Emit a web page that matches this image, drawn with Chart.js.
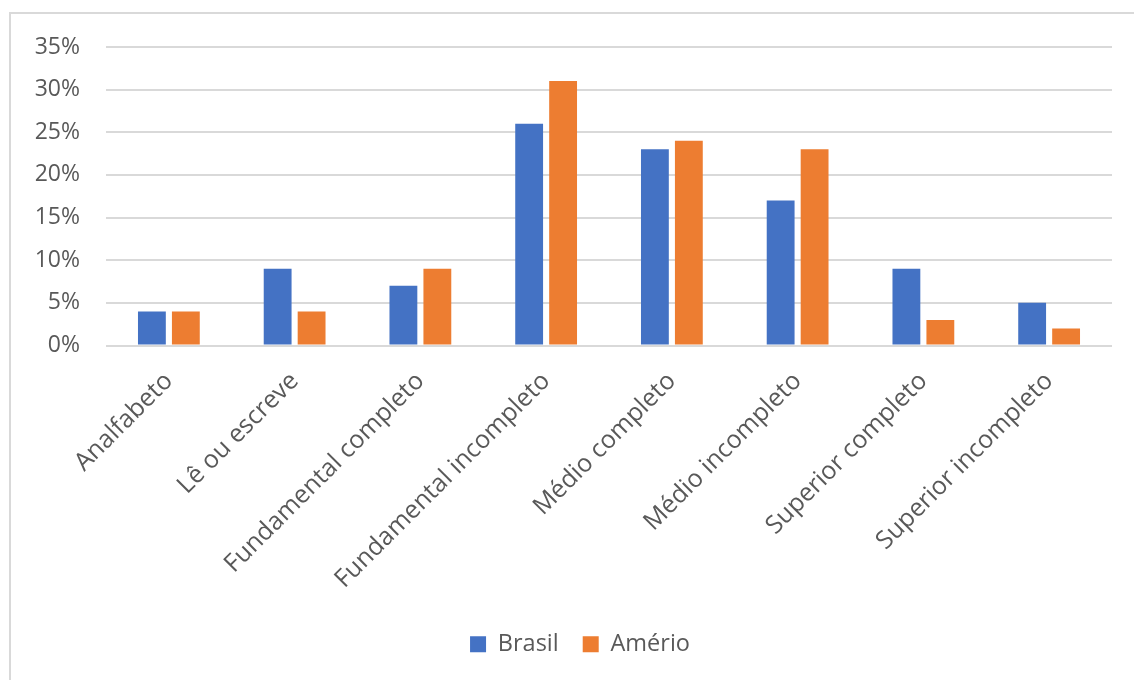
<!DOCTYPE html>
<html>
<head>
<meta charset="utf-8">
<script src="https://cdn.jsdelivr.net/npm/chart.js@4"></script>
<style>
  html, body { margin: 0; padding: 0; background: #fff; overflow: hidden; }
  #frame {
    position: absolute; left: 9px; top: 12px; width: 1140px; height: 700px;
    border: 2px solid #d9d9d9; box-sizing: border-box;
  }
  #wrap { position: absolute; left: 0; top: 0; width: 1134px; height: 680px; }
</style>
</head>
<body>
<div id="frame"></div>
<div id="wrap"><canvas id="escolaridadeChart" width="1134" height="680"></canvas></div>
<script>
Chart.defaults.font.family = "'Open Sans', sans-serif";
Chart.defaults.color = '#595959';

const categorias = ["Analfabeto", "Lê ou escreve", "Fundamental completo", "Fundamental incompleto",
  "Médio completo", "Médio incompleto", "Superior completo", "Superior incompleto"];
const brasil = [4, 9, 7, 26, 23, 17, 9, 5];
const amerio = [4, 4, 9, 31, 24, 23, 3, 2];
const yTicks = [0, 5, 10, 15, 20, 25, 30, 35];

const ctx = document.getElementById("escolaridadeChart");

const chartData = {
  labels: categorias,
  datasets: [{
    label: 'Brasil',
    data: brasil,
    backgroundColor: '#4472C4'
  }, {
    label: 'Amério',
    data: amerio,
    backgroundColor: '#ED7D31'
  }]
}

// the legend in the original sits a bit right of the plot centre
const shiftLegend = {
  id: 'shiftLegend',
  afterLayout: (chart) => {
    chart.legend.left += 24;
    chart.legend.right += 24;
  }
}

const chartOptions = {
  responsive: false,
  animation: false,
  layout: {
    padding: { top: 47, right: 22, left: 0, bottom: 14 }
  },
  datasets: {
    bar: { categoryPercentage: 0.54, barPercentage: 0.82 }
  },
  scales: {
    x: {
      grid: { display: false },
      border: { display: false },
      ticks: {
        font: { size: 25 },
        maxRotation: 45,
        minRotation: 45,
        padding: 13
      },
      afterFit: (scale) => { scale.height = 263; }
    },
    y: {
      min: 0,
      max: 35,
      afterFit: (scale) => { scale.width = 106; },
      afterBuildTicks: (scale) => { scale.ticks = yTicks.map(v => ({ value: v })); },
      border: { display: false },
      grid: { color: '#d9d9d9', lineWidth: 2, drawTicks: false },
      ticks: {
        font: { size: 23 },
        padding: 26,
        callback: (v) => v + '%'
      }
    }
  },
  plugins: {
    legend: {
      position: 'bottom',
      labels: {
        font: { size: 23.5 },
        boxWidth: 16,
        boxHeight: 16,
        padding: 24,
        color: '#595959'
      }
    },
    tooltip: { enabled: false }
  }
}

let chart = new Chart(ctx, { type: 'bar', data: chartData, options: chartOptions, plugins: [shiftLegend] });
</script>
</body>
</html>
